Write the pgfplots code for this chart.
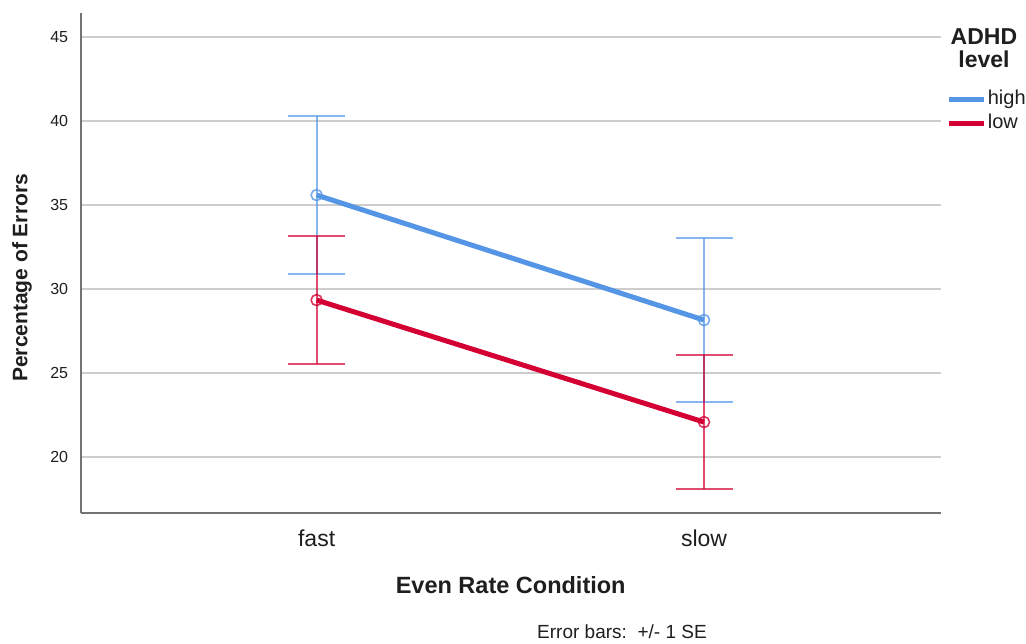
\documentclass[border=0pt]{standalone}
\usepackage{fontspec}
\setmainfont{Liberation Sans}
\usepackage{pgfplots}
\pgfplotsset{compat=1.18}
\definecolor{cblue}{RGB}{84,149,230}
\definecolor{cred}{RGB}{212,0,52}
\definecolor{gridc}{RGB}{205,205,205}
\definecolor{axc}{RGB}{115,115,115}
\definecolor{txt}{RGB}{30,30,30}
\begin{document}
\begin{tikzpicture}
\useasboundingbox (-80.7pt,-130pt) rectangle (945.3pt,513pt);
\begin{axis}[
  scale only axis, width=860pt, height=500.3pt,
  xmin=-0.609, xmax=1.611, ymin=16.65, ymax=46.47,
  axis lines*=left,
  axis line style={axc, line width=2pt},
  major tick length=0pt,
  xtick={0,1}, xticklabels={fast,slow},
  ytick={20,25,30,35,40,45},
  ymajorgrids, grid style={gridc, line width=1.8pt},
  /pgf/number format/assume math mode=true,
  yticklabel style={font=\fontsize{16}{18}\selectfont, text=txt, anchor=center, xshift=-21.5pt},
  xticklabel style={font=\fontsize{23}{26}\selectfont, text=txt, anchor=center, yshift=-25pt},
  xlabel={Even Rate Condition},
  ylabel={Percentage of Errors},
  xlabel style={font=\bfseries\fontsize{23.5}{26}\selectfont, text=txt, at={(axis description cs:0.5,0)}, anchor=center, yshift=-72pt},
  ylabel style={font=\bfseries\fontsize{21}{24}\selectfont, text=txt, at={(axis description cs:0,0.47)}, anchor=center, yshift=58.7pt},
  clip=false,
  legend style={at={(rel axis cs:1.0063,0.850)}, anchor=north west, draw=none, fill=none,
    font=\fontsize{20}{22}\selectfont, text=txt, inner sep=0pt, row sep=0pt,
    nodes={inner sep=1.5pt, text height=15pt, text depth=6pt}},
  legend cell align=left,
  legend image code/.code={\draw[line width=5pt] (0pt,0pt) -- (35pt,0pt);},
]
\addplot[cblue, line width=5pt, mark=o, mark size=5.5pt,
  mark options={solid, line width=1.6pt, draw opacity=0.8},
  error bars/.cd, y dir=both, y explicit, error mark=|,
  error mark options={cblue, mark size=28.5pt, line width=2pt, opacity=0.7},
  error bar style={line width=2pt, opacity=0.7}]
  coordinates {(0,35.60) +- (0,4.71) (1,28.15) +- (0,4.88)};
\addlegendentry{high}
\addplot[cred, line width=5pt, mark=o, mark size=5.5pt,
  mark options={solid, line width=1.6pt, draw opacity=0.8},
  error bars/.cd, y dir=both, y explicit, error mark=|,
  error mark options={cred, mark size=28.5pt, line width=2pt, opacity=0.7},
  error bar style={line width=2pt, opacity=0.7}]
  coordinates {(0,29.34) +- (0,3.82) (1,22.07) +- (0,3.98)};
\addlegendentry{low}
\node[font=\bfseries\fontsize{23}{23}\selectfont, text=txt, align=center, anchor=center]
  at (rel axis cs:1.0503,0.9294) {ADHD\\level};
\node[font=\fontsize{19}{22}\selectfont, text=txt, anchor=center]
  at (rel axis cs:0.6294,-0.2379) {Error bars:\ \ +/- 1 SE};
\end{axis}
\end{tikzpicture}
\end{document}
